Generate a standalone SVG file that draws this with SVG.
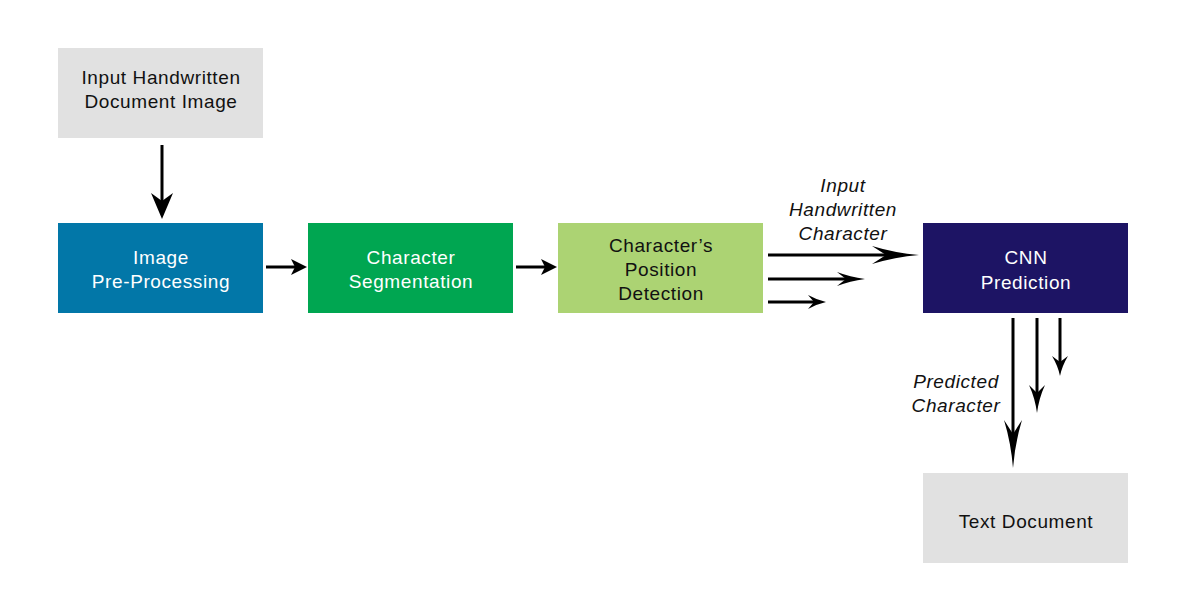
<svg xmlns="http://www.w3.org/2000/svg" width="1200" height="600" viewBox="0 0 1200 600">
<style>
.t{font-family:"Liberation Sans",Arial,sans-serif;font-size:19px;letter-spacing:0.6px;text-anchor:middle}
.w{fill:#fff}
.k{fill:#111}
.i{font-style:italic}
.ln{stroke:#000;stroke-width:3;fill:none}
.hd{fill:#000}
</style>
<rect width="1200" height="600" fill="#fff"/>
<g id="input">
<rect x="58" y="48" width="205" height="90" fill="#e1e1e1"/>
<text class="t k" x="161" y="84">Input Handwritten</text>
<text class="t k" x="161" y="108">Document Image</text>
</g>
<g id="preprocessing">
<rect x="58" y="223" width="205" height="90" fill="#0277a8"/>
<text class="t w" x="161" y="264">Image</text>
<text class="t w" x="161" y="288">Pre-Processing</text>
</g>
<g id="segmentation">
<rect x="308" y="223" width="205" height="90" fill="#00a651"/>
<text class="t w" x="411" y="264">Character</text>
<text class="t w" x="411" y="288">Segmentation</text>
</g>
<g id="position">
<rect x="558" y="223" width="205" height="90" fill="#acd373"/>
<text class="t k" x="661" y="252">Character’s</text>
<text class="t k" x="661" y="276">Position</text>
<text class="t k" x="661" y="300">Detection</text>
</g>
<g id="cnn">
<rect x="923" y="223" width="205" height="90" fill="#1d1464"/>
<text class="t w" x="1026" y="264">CNN</text>
<text class="t w" x="1026" y="289">Prediction</text>
</g>
<g id="textdoc">
<rect x="923" y="473" width="205" height="90" fill="#e1e1e1"/>
<text class="t k" x="1026" y="528">Text Document</text>
</g>
<g id="connectors">
<line class="ln" x1="162" y1="145" x2="162" y2="205"/>
<path class="hd" d="M162,219 L151,193 L162,201 L173,193 Z"/>
<line class="ln" x1="266" y1="267" x2="296" y2="267"/>
<path class="hd" d="M307,267 L291,259 L295,267 L291,275 Z"/>
<line class="ln" x1="516" y1="267" x2="546" y2="267"/>
<path class="hd" d="M557,267 L541,259 L545,267 L541,275 Z"/>
<line class="ln" x1="768" y1="255" x2="890" y2="255"/>
<path class="hd" d="M919,255 Q895,253 872,246 L886,255 L872,264 Q895,257 919,255 Z"/>
<line class="ln" x1="768" y1="279" x2="848" y2="279"/>
<path class="hd" d="M865,279 Q850,277 837,272 L846,279 L837,286 Q850,281 865,279 Z"/>
<line class="ln" x1="768" y1="302" x2="814" y2="302"/>
<path class="hd" d="M826,302 Q817,300 808,295 L814,302 L808,309 Q817,304 826,302 Z"/>
<line class="ln" x1="1013" y1="318" x2="1013" y2="440"/>
<path class="hd" d="M1013,468 Q1011,443 1004,420 L1013,434 L1022,420 Q1015,443 1013,468 Z"/>
<line class="ln" x1="1037" y1="318" x2="1037" y2="396"/>
<path class="hd" d="M1037,413 Q1035,398 1029,385 L1037,393 L1045,385 Q1039,398 1037,413 Z"/>
<line class="ln" x1="1060" y1="318" x2="1060" y2="364"/>
<path class="hd" d="M1060,376 Q1058,366 1052,356 L1060,362 L1068,356 Q1062,366 1060,376 Z"/>
</g>
<g id="labels">
<text class="t k i" x="843" y="192">Input</text>
<text class="t k i" x="843" y="216">Handwritten</text>
<text class="t k i" x="843" y="240">Character</text>
<text class="t k i" x="956" y="388">Predicted</text>
<text class="t k i" x="956" y="412">Character</text>
</g>
</svg>
